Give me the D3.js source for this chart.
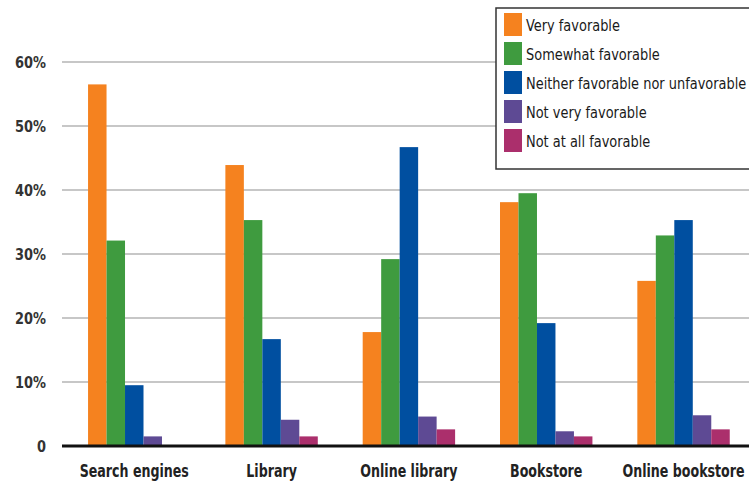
<!DOCTYPE html>
<html><head><meta charset="utf-8">
<script src="https://cdn.jsdelivr.net/npm/d3@7"></script>
<style>body{margin:0;background:#fff;} svg{display:block;}</style>
</head><body>
<svg id="chart" width="749" height="481"></svg>
<script>
const categories = ["Search engines", "Library", "Online library", "Bookstore", "Online bookstore"];
const seriesNames = ["Very favorable", "Somewhat favorable", "Neither favorable nor unfavorable", "Not very favorable", "Not at all favorable"];
const veryFavorable = [56.5, 43.9, 17.8, 38.1, 25.8];
const somewhatFavorable = [32.1, 35.3, 29.2, 39.5, 32.9];
const neither = [9.5, 16.7, 46.7, 19.2, 35.3];
const notVery = [1.5, 4.1, 4.6, 2.3, 4.8];
const notAtAll = [0, 1.5, 2.6, 1.5, 2.6];
const tickValues = [0, 10, 20, 30, 40, 50, 60];
const tickLabels = ["0", "10%", "20%", "30%", "40%", "50%", "60%"];
const colors = ["#f5821f", "#3f9b3f", "#004fa0", "#5e4a94", "#ab2f6c"];

const series = [veryFavorable, somewhatFavorable, neither, notVery, notAtAll];
const svg = d3.select("#chart");
const font = "'DejaVu Sans Condensed', 'DejaVu Sans', sans-serif";

const y = d3.scaleLinear().domain([0, 60]).range([446, 62]);
const pInner = 0.327;
const x0 = d3.scaleBand().domain(categories).range([65.6, 752.2]).paddingInner(pInner).paddingOuter(pInner / 2);
const x1 = d3.scaleBand().domain(d3.range(seriesNames.length)).range([0, x0.bandwidth()]);

// gridlines
svg.append("g").selectAll("line").data(tickValues.filter(v => v > 0)).join("line")
  .attr("x1", 62).attr("x2", 749)
  .attr("y1", d => y(d)).attr("y2", d => y(d))
  .attr("stroke", "#b4b4b4").attr("stroke-width", 1.5);

// y labels
svg.append("g").selectAll("text").data(tickValues).join("text")
  .attr("transform", d => `translate(46,${y(d)}) scale(0.9,1)`)
  .attr("dy", "0.35em")
  .attr("text-anchor", "end")
  .attr("font-family", font).attr("font-weight", "bold").attr("font-size", 16)
  .attr("fill", "#333")
  .text((d, i) => tickLabels[i]);

// bars
const groups = svg.append("g").selectAll("g").data(categories).join("g")
  .attr("transform", d => `translate(${x0(d)},0)`);
groups.selectAll("rect").data((c, ci) => series.map((s, si) => ({si, v: s[ci]}))).join("rect")
  .attr("x", d => x1(d.si)).attr("width", x1.bandwidth())
  .attr("y", d => y(d.v)).attr("height", d => y(0) - y(d.v))
  .attr("fill", d => colors[d.si]);

// baseline
svg.append("line").attr("x1", 62).attr("x2", 749).attr("y1", y(0)).attr("y2", y(0))
  .attr("stroke", "#111").attr("stroke-width", 3);

// category labels
svg.append("g").selectAll("text").data(categories).join("text")
  .attr("transform", d => `translate(${x0(d) + x0.bandwidth() / 2},477) scale(0.78,1)`)
  .attr("text-anchor", "middle")
  .attr("font-family", font).attr("font-weight", "bold").attr("font-size", 18)
  .attr("fill", "#222")
  .text(d => d);

// legend
const lg = svg.append("g");
lg.append("rect").attr("x", 496).attr("y", 8).attr("width", 260).attr("height", 161)
  .attr("fill", "#fff").attr("stroke", "#333").attr("stroke-width", 1.5);
const items = lg.selectAll("g.item").data(seriesNames).join("g").attr("class", "item")
  .attr("transform", (d, i) => `translate(504,${13 + i * 29})`);
items.append("rect").attr("width", 18).attr("height", 23).attr("fill", (d, i) => colors[i]);
items.append("text").attr("transform", "translate(22,12) scale(0.9,1)").attr("dy", "0.35em")
  .attr("font-family", font).attr("font-size", 16).attr("fill", "#1a1a1a")
  .text(d => d);
</script>
</body></html>
